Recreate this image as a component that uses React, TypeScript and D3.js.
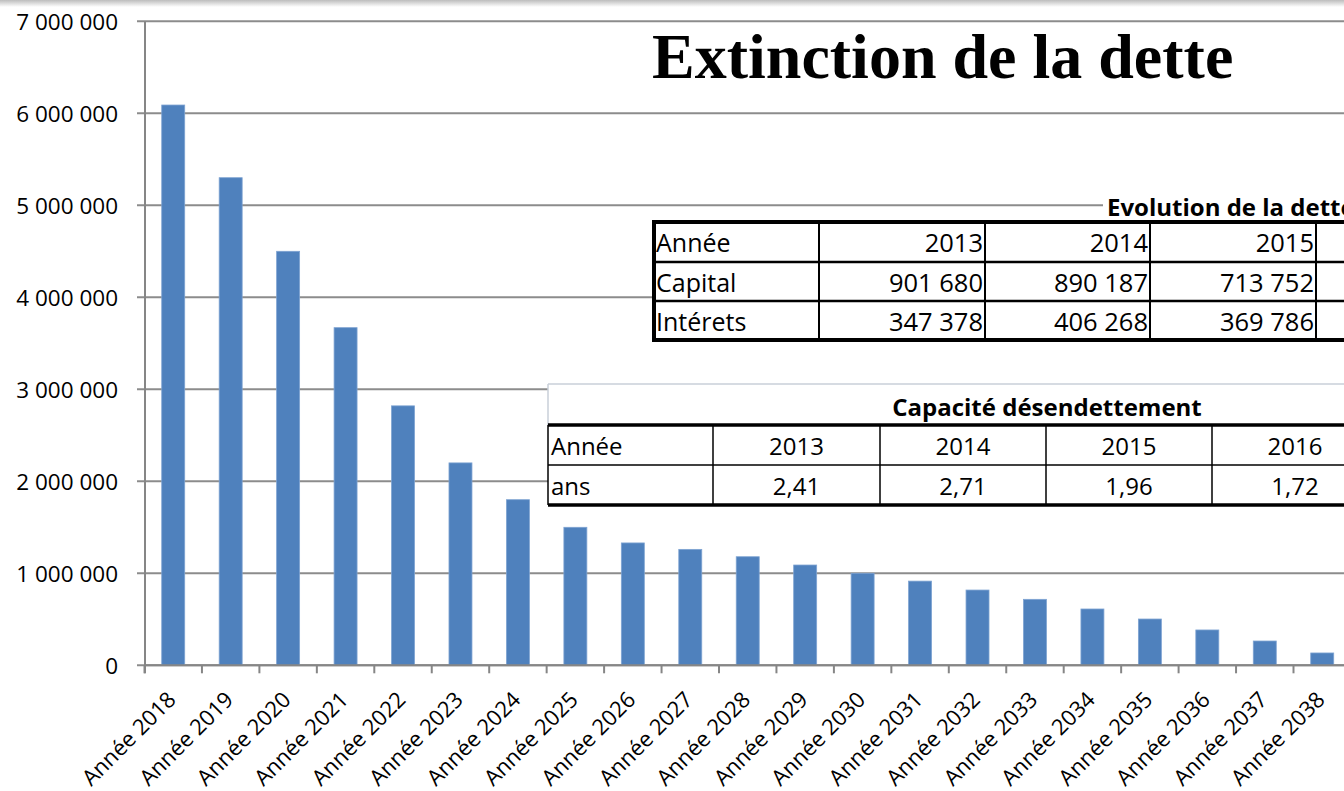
import React from "react";
import * as d3 from "d3";

const years = ["2018","2019","2020","2021","2022","2023","2024","2025","2026","2027","2028","2029","2030","2031","2032","2033","2034","2035","2036","2037","2038"];
const categories = years.map((y) => "Année " + y);
const debtValues = [6090000, 5300000, 4500000, 3670000, 2820000, 2200000, 1800000, 1500000, 1330000, 1260000, 1180000, 1090000, 1000000, 915000, 818000, 717000, 612000, 503000, 384000, 264000, 134000];
const yTicks = [0, 1000000, 2000000, 3000000, 4000000, 5000000, 6000000, 7000000];

const chartTitle = "Extinction de la dette";

const evolTitle = "Evolution de la dette";
const evolYears = ["2013", "2014", "2015", ""];
const evolCapital = ["901 680", "890 187", "713 752", ""];
const evolInterets = ["347 378", "406 268", "369 786", ""];

const capTitle = "Capacité désendettement";
const capYears = ["2013", "2014", "2015", "2016"];
const capValues = ["2,41", "2,71", "1,96", "1,72"];

const W = 1344;
const H = 791;
const FONT = "'Open Sans', 'Noto Sans', sans-serif";

function fmt(v: number) {
  return d3.format(",")(v).replace(/,/g, " ");
}

export default function App() {
  const x0 = 144.5;
  const band = 57.45;
  const x = d3
    .scaleBand<string>()
    .domain(categories)
    .range([x0, x0 + band * categories.length])
    .padding(0);
  const y = d3.scaleLinear().domain([0, 7000000]).range([665.3, 21.3]);
  const barW = x.bandwidth() * 0.4;

  const gridColor = "#8c8c8c";

  const t1Left = 654, t1Top = 222, t1Rows = [222, 262, 301, 340];
  const t1Cols = [654, 819, 985, 1150, 1316, 1482];
  const t2Left = 548, t2FrameTop = 384, t2Rows = [425, 465, 505];
  const t2Cols = [548, 713, 880, 1046, 1212, 1378];

  return (
    <svg
      width={W}
      height={H}
      style={{ position: "absolute", left: 0, top: 0, background: "#fff" }}
    >
      <defs>
        <linearGradient id="topShade" x1="0" y1="0" x2="0" y2="1">
          <stop offset="0" stopColor="#bdbdbd" />
          <stop offset="1" stopColor="#ffffff" />
        </linearGradient>
      </defs>
      <rect x={0} y={0} width={W} height={H} fill="#fff" />
      <rect x={0} y={0} width={W} height={7} fill="url(#topShade)" />

      {yTicks.map((t) => (
        <line key={"g" + t} x1={137} x2={W} y1={y(t)} y2={y(t)} stroke={gridColor} strokeWidth={2} />
      ))}

      <line x1={145} x2={145} y1={y(7000000)} y2={y(0) + 8} stroke="#868686" strokeWidth={2} />

      {yTicks.map((t) => (
        <text
          key={"yl" + t}
          x={118}
          y={y(t)}
          textAnchor="end"
          dominantBaseline="central"
          fontFamily={FONT}
          fontSize={22.5}
          fill="#000"
        >
          {fmt(t)}
        </text>
      ))}

      {categories.map((c, i) => (
        <rect
          key={"b" + c}
          x={(x(c) as number) + (x.bandwidth() - barW) / 2}
          y={y(debtValues[i])}
          width={barW}
          height={y(0) - y(debtValues[i])}
          fill="#4f81bd"
          stroke="#7ea3d2"
          strokeWidth={0.8}
        />
      ))}

      <line x1={x0} x2={W} y1={y(0)} y2={y(0)} stroke="#868686" strokeWidth={2} />
      {categories.map((c) => (
        <line
          key={"xt" + c}
          x1={(x(c) as number)}
          x2={(x(c) as number)}
          y1={y(0)}
          y2={y(0) + 8}
          stroke="#868686"
          strokeWidth={2}
        />
      ))}
      {categories.map((c) => {
        const cx = (x(c) as number) + x.bandwidth() / 2 + 4;
        const cy = 701;
        return (
          <text
            key={"xl" + c}
            x={cx}
            y={cy}
            textAnchor="end"
            transform={`rotate(-45 ${cx} ${cy})`}
            fontFamily={FONT}
            fontSize={22}
            fill="#000"
          >
            {c}
          </text>
        );
      })}

      <text
        x={652}
        y={78}
        fontFamily="'Liberation Serif', 'Times New Roman', serif"
        fontWeight="bold"
        fontSize={64}
        fill="#000"
      >
        {chartTitle}
      </text>

      {/* Table 1 */}
      <rect x={1103} y={190} width={W - 1103} height={30} fill="#fff" />
      <text x={1107} y={216} fontFamily={FONT} fontWeight="bold" fontSize={24} fill="#000">
        {evolTitle}
      </text>
      <rect x={t1Left} y={t1Top} width={W - t1Left + 20} height={t1Rows[3] - t1Top} fill="#fff" />
      {t1Cols.slice(1, -1).map((cx) => (
        <line key={"t1c" + cx} x1={cx} x2={cx} y1={t1Top} y2={t1Rows[3]} stroke="#000" strokeWidth={2} />
      ))}
      {t1Rows.slice(1, 3).map((ry) => (
        <line key={"t1r" + ry} x1={t1Left} x2={W} y1={ry} y2={ry} stroke="#000" strokeWidth={2.5} />
      ))}
      <rect
        x={t1Left}
        y={t1Top}
        width={W - t1Left + 20}
        height={t1Rows[3] - t1Top}
        fill="none"
        stroke="#000"
        strokeWidth={4}
      />
      {[["Année", ...evolYears], ["Capital", ...evolCapital], ["Intérets", ...evolInterets]].map((row, ri) => {
        const cy = (t1Rows[ri] + t1Rows[ri + 1]) / 2;
        return row.map((cell, ci) =>
          ci === 0 ? (
            <text key={"t1" + ri + ci} x={656} y={cy} dominantBaseline="central" fontFamily={FONT} fontSize={25} fill="#000">
              {cell}
            </text>
          ) : (
            <text
              key={"t1" + ri + ci}
              x={t1Cols[ci + 1] - 2}
              y={cy}
              textAnchor="end"
              dominantBaseline="central"
              fontFamily={FONT}
              fontSize={25.5}
              fill="#000"
            >
              {cell}
            </text>
          )
        );
      })}

      {/* Table 2 */}
      <rect x={t2Left} y={t2FrameTop} width={W - t2Left + 20} height={t2Rows[2] - t2FrameTop} fill="#fff" />
      <line x1={t2Left} x2={W} y1={t2FrameTop} y2={t2FrameTop} stroke="#c9cfd8" strokeWidth={1.5} />
      <line x1={t2Left} x2={t2Left} y1={t2FrameTop} y2={t2Rows[0]} stroke="#c9cfd8" strokeWidth={1.5} />
      <text
        x={1047}
        y={406}
        textAnchor="middle"
        dominantBaseline="central"
        fontFamily={FONT}
        fontWeight="bold"
        fontSize={24}
        fill="#000"
      >
        {capTitle}
      </text>
      {t2Cols.slice(0, -1).map((cx) => (
        <line key={"t2c" + cx} x1={cx} x2={cx} y1={t2Rows[0]} y2={t2Rows[2]} stroke="#000" strokeWidth={1.5} />
      ))}
      <line x1={t2Left} x2={W} y1={t2Rows[0]} y2={t2Rows[0]} stroke="#000" strokeWidth={3.5} />
      <line x1={t2Left} x2={W} y1={t2Rows[1]} y2={t2Rows[1]} stroke="#000" strokeWidth={1.5} />
      <line x1={t2Left} x2={W} y1={t2Rows[2]} y2={t2Rows[2]} stroke="#000" strokeWidth={3.5} />
      {[["Année", ...capYears], ["ans", ...capValues]].map((row, ri) => {
        const cy = (t2Rows[ri] + t2Rows[ri + 1]) / 2;
        return row.map((cell, ci) =>
          ci === 0 ? (
            <text key={"t2" + ri + ci} x={551} y={cy} dominantBaseline="central" fontFamily={FONT} fontSize={24} fill="#000">
              {cell}
            </text>
          ) : (
            <text
              key={"t2" + ri + ci}
              x={(t2Cols[ci] + t2Cols[ci + 1]) / 2}
              y={cy}
              textAnchor="middle"
              dominantBaseline="central"
              fontFamily={FONT}
              fontSize={24}
              fill="#000"
            >
              {cell}
            </text>
          )
        );
      })}
    </svg>
  );
}
